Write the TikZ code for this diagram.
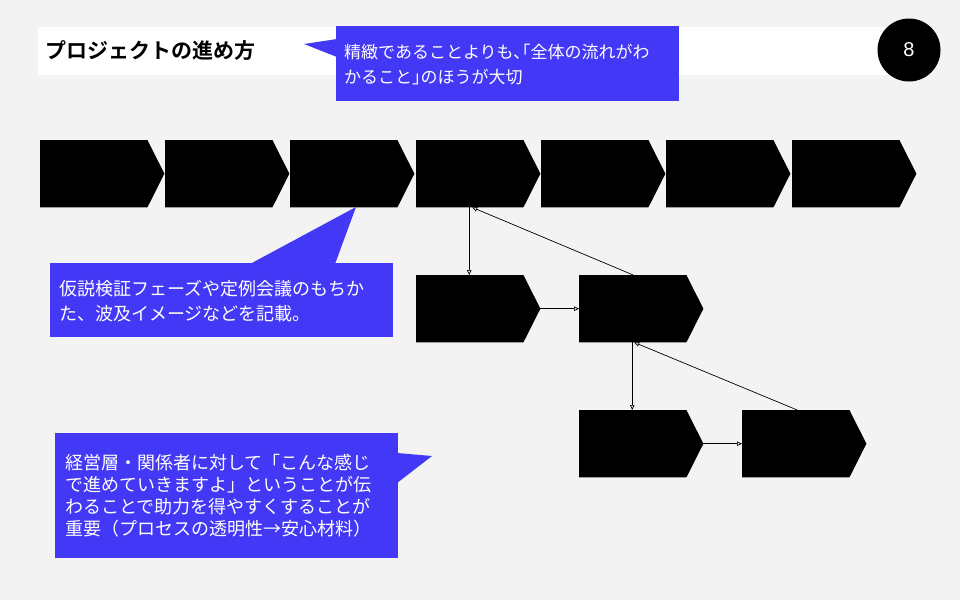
\documentclass[tikz,border=0pt]{standalone}
\usepackage{fontspec}
\usetikzlibrary{arrows.meta}
\newfontfamily\jp[BoldFont={* Bold}]{Noto Sans CJK JP}
\newfontfamily\numfont{Liberation Sans}
\definecolor{bggray}{RGB}{243,243,243}
\definecolor{calloutblue}{RGB}{67,56,245}
\newcommand\chevshape[1]{\fill[black] (#1.north west) -- ([xshift=-17pt]#1.north east) -- (#1.east) -- ([xshift=-17pt]#1.south east) -- (#1.south west) -- cycle;}
\begin{document}
\begin{tikzpicture}[x=1pt,y=-1pt,
  chev/.style={minimum width=124pt,minimum height=67pt,inner sep=0pt,anchor=north west},
  conn/.style={line width=0.7pt,-{Triangle[open,length=5pt,width=4.5pt]}},
  callout/.style={fill=calloutblue},
  ctext/.style={anchor=north west,inner sep=0pt,align=left,text=white}]
\useasboundingbox (0,0) rectangle (960,600);
\fill[bggray] (0,0) rectangle (960,600);
\fill[white] (38,27) rectangle (900,75);
% title
\node[anchor=west,inner sep=0pt,font=\jp\bfseries\fontsize{21}{25}\selectfont] (title) at (45,51) {プロジェクトの進め方};
% page number
\node[circle,fill=black,minimum size=63pt,inner sep=0pt,text=white,font=\numfont\fontsize{20}{24}\selectfont] (num) at (909,50) {8};
% top row
\node[chev] (t1) at (40,140) {};
\node[chev] (t2) at (165,140) {};
\node[chev] (t3) at (290,140) {};
\node[chev] (t4) at (416,140) {};
\node[chev] (t5) at (541,140) {};
\node[chev] (t6) at (666,140) {};
\node[chev] (t7) at (792,140) {};
\node[chev] (r1) at (416,275) {};
\node[chev] (r2) at (579,275) {};
\node[chev] (s1) at (579,410) {};
\node[chev] (s2) at (742,410) {};
\foreach \n in {t1,t2,t3,t4,t5,t6,t7,r1,r2,s1,s2}{\chevshape{\n}}
% connectors
\draw[conn] ([xshift=-9pt]t4.south) -- ([xshift=-9pt]r1.north);
\draw[conn] (r1.east) -- (r2.west);
\draw[conn] ([xshift=-8pt]r2.north) -- ([xshift=-6pt]t4.south);
\draw[conn] ([xshift=-9pt]r2.south) -- ([xshift=-9pt]s1.north);
\draw[conn] (s1.east) -- (s2.west);
\draw[conn] ([xshift=-7pt]s2.north) -- ([xshift=-7pt]r2.south);
% callout 1
\fill[callout] (336,26) rectangle (679,101);
\fill[callout] (304,44) -- (337,39) -- (337,57) -- cycle;
\node[ctext,font=\jp\fontsize{17}{25}\selectfont] (c1) at (344,44) {精緻であることよりも､｢全体の流れがわ\\かること｣のほうが大切};
% callout 2
\fill[callout] (50,263) rectangle (393,337);
\fill[callout] (250,264) -- (356,207) -- (335,264) -- cycle;
\node[ctext,font=\jp\fontsize{18}{25}\selectfont] (c2) at (59,280) {仮説検証フェーズや定例会議のもちか\\た、波及イメージなどを記載。};
% callout 3
\fill[callout] (55,433) rectangle (398,558);
\fill[callout] (397,453) -- (432,456) -- (397,483) -- cycle;
\node[ctext,font=\jp\fontsize{18}{22}\selectfont] (c3) at (65,454) {経営層・関係者に対して「こんな感じ\\で進めていきますよ」ということが伝\\わることで助力を得やすくすることが\\重要（プロセスの透明性→安心材料）};
\end{tikzpicture}
\end{document}
